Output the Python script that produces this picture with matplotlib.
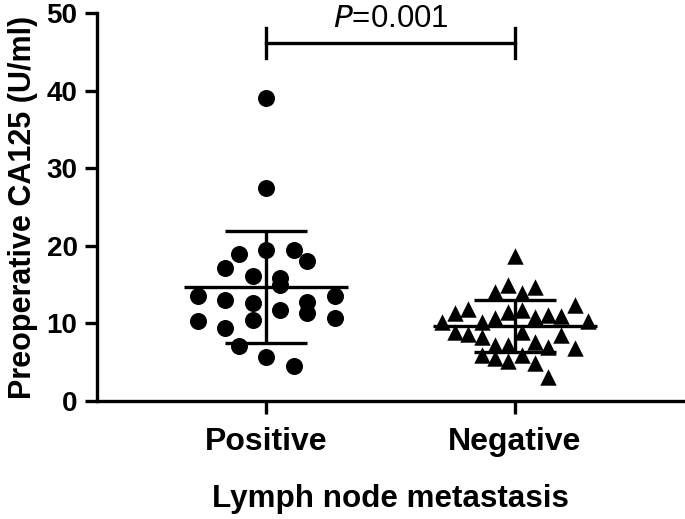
#!/usr/bin/env python3

import numpy as np
import matplotlib
matplotlib.use('Agg')
import matplotlib.pyplot as plt

# values (U/ml)
positive = [39.0, 27.5, 19.0, 19.4, 19.5, 18.1, 17.1, 16.1, 15.8, 14.9,
            13.5, 13.0, 12.6, 12.8, 13.5, 11.7, 11.3, 10.3, 10.4, 10.7,
            9.4, 7.1, 5.7, 4.5]
positive_jitter = [0.0, 0.0, -0.108, 0.0, 0.11, 0.166, -0.165, -0.053, 0.056, 0.056,
                   -0.275, -0.165, -0.053, 0.166, 0.277, 0.056, 0.166, -0.275, -0.053, 0.277,
                   -0.165, -0.108, 0.0, 0.11]
negative = [18.7, 14.9, 14.1, 14.7, 13.9, 11.9, 11.3, 11.5, 11.7, 10.8,
            11.1, 10.9, 12.4, 10.2, 10.2, 10.7, 10.3, 8.9, 8.6, 8.3,
            8.9, 8.5, 7.2, 7.2, 7.6, 7.0, 6.8, 5.9, 5.5, 5.1,
            5.9, 4.9, 3.1]
negative_jitter = [0.0, -0.027, -0.08, 0.08, 0.027, -0.19, -0.24, -0.027, 0.027, 0.08,
                   0.134, 0.187, 0.24, -0.293, -0.134, -0.08, 0.293, -0.24, -0.19, -0.134,
                   0.027, 0.187, -0.08, -0.027, 0.08, 0.134, 0.24, -0.134, -0.08, -0.027,
                   0.027, 0.08, 0.134]
groups = ['Positive', 'Negative']
p_text = '=0.001'

def main():
    plt.rcParams['font.family'] = 'Liberation Sans'
    fig = plt.figure(figsize=(6.85, 5.19), dpi=100)
    ax = fig.add_axes([0.1416, 0.2274, 0.857, 0.7476])

    lw = 2.4
    ax.scatter(np.array(positive_jitter), positive, s=150, marker='o', color='black', zorder=3, linewidths=0)
    ax.scatter(1 + np.array(negative_jitter), negative, s=140, marker='^', color='black', zorder=3, linewidths=0)

    for i, vals in enumerate([positive, negative]):
        m = np.mean(vals)
        sd = np.std(vals, ddof=1)
        ax.plot([i - 0.33, i + 0.33], [m, m], color='black', lw=lw, zorder=4, solid_capstyle='butt')
        ax.plot([i, i], [m - sd, m + sd], color='black', lw=lw, zorder=4, solid_capstyle='butt')
        for y in (m - sd, m + sd):
            ax.plot([i - 0.165, i + 0.165], [y, y], color='black', lw=lw, zorder=4, solid_capstyle='butt')

    # significance bracket
    ax.plot([0, 1], [46.1, 46.1], color='black', lw=lw, clip_on=False)
    ax.plot([0, 0], [44.2, 48.0], color='black', lw=lw, clip_on=False)
    ax.plot([1, 1], [44.2, 48.0], color='black', lw=lw, clip_on=False)
    ax.text(0.5, 47.3, r'$\it{P}$' + p_text, ha='center', va='bottom', fontsize=22.5)

    ax.set_xlim(-0.68, 1.68)
    ax.set_ylim(0, 50)
    ax.set_yticks(np.arange(0, 51, 10))
    ax.set_xticks([0, 1])
    ax.set_xticklabels(groups, fontsize=23, fontweight='bold')
    for t in ax.get_yticklabels():
        t.set_fontsize(20)
        t.set_fontweight('bold')
    ax.tick_params(width=lw, length=9, pad=5)
    ax.tick_params(axis='x', pad=10)
    for s in ['top', 'right']:
        ax.spines[s].set_visible(False)
    for s in ['left', 'bottom']:
        ax.spines[s].set_linewidth(lw)
    ax.set_ylabel('Preoperative CA125 (U/ml)', fontsize=22, fontweight='bold', labelpad=6)
    ax.set_xlabel('Lymph node metastasis', fontsize=22.6, fontweight='bold', labelpad=19)

    plt.savefig('out.png', dpi=100)

if __name__ == "__main__":
    main()
